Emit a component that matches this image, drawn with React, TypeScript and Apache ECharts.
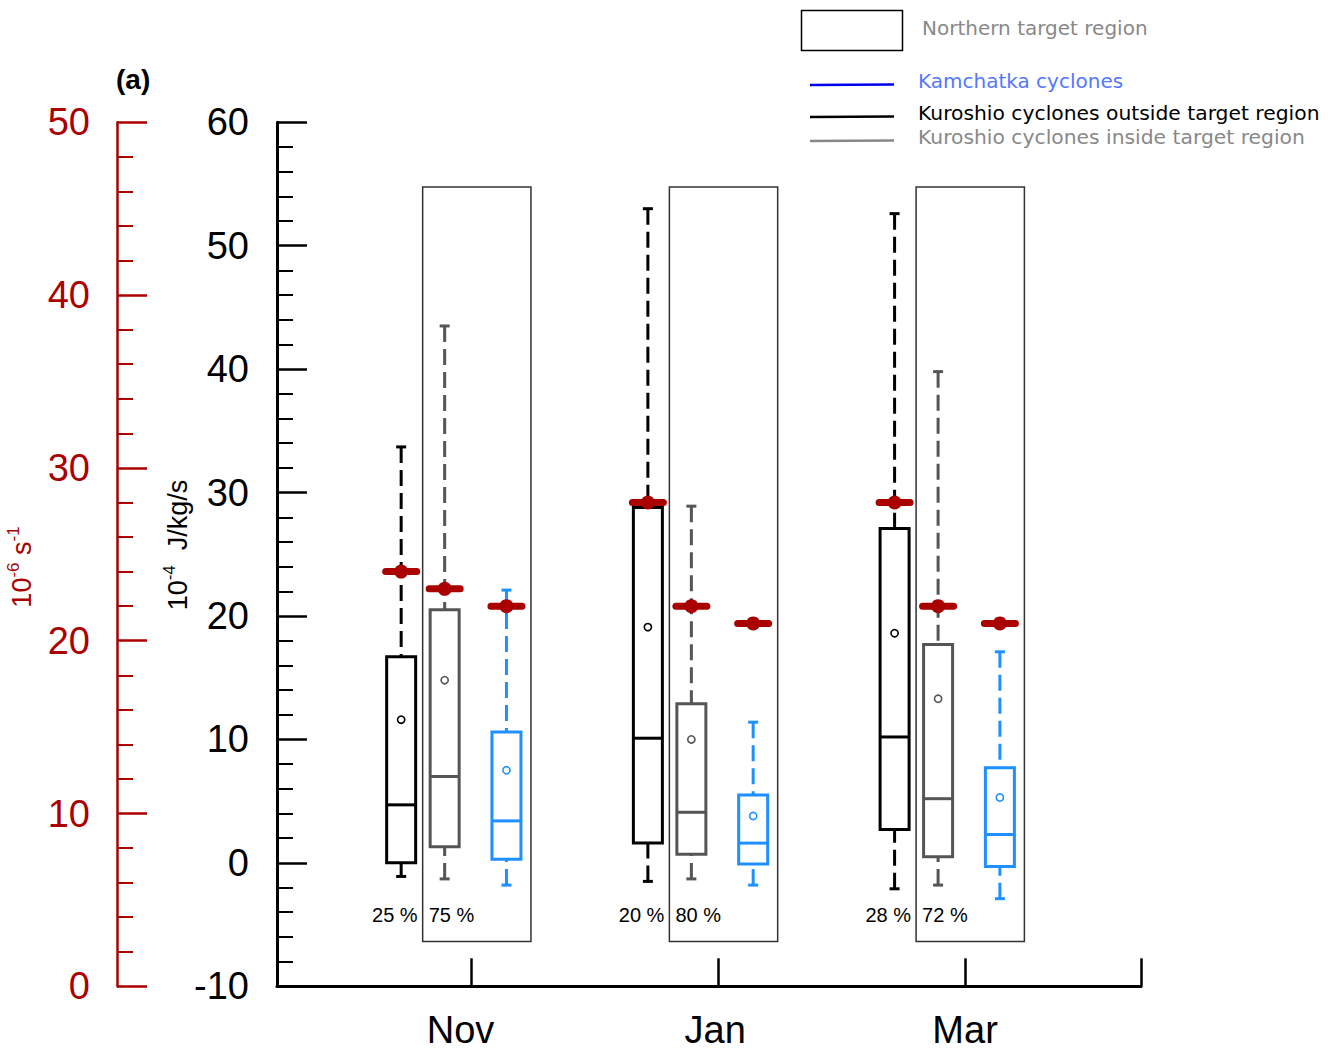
import React, { useEffect, useRef } from 'react';
import * as echarts from 'echarts';

// ---------------- data ----------------
const months = ['Nov', 'Jan', 'Mar'];
const outsidePct = [25, 20, 28];
const insidePct = [75, 80, 72];

// Kuroshio cyclones outside target region (10^-4 J/kg/s)
const outsideMin = [-1.1, -1.5, -2.1];
const outsideQ1 = [0.0, 1.6, 2.7];
const outsideMedian = [4.7, 10.1, 10.2];
const outsideQ3 = [16.7, 28.8, 27.1];
const outsideMax = [33.7, 53.0, 52.6];
const outsideMean = [11.6, 19.1, 18.6];

// Kuroshio cyclones inside target region
const insideMin = [-1.3, -1.3, -1.8];
const insideQ1 = [1.3, 0.7, 0.5];
const insideMedian = [7.0, 4.1, 5.2];
const insideQ3 = [20.5, 12.9, 17.7];
const insideMax = [43.5, 28.9, 39.8];
const insideMean = [14.8, 10.0, 13.3];

// Kamchatka cyclones
const kamMin = [-1.8, -1.8, -2.9];
const kamQ1 = [0.3, -0.1, -0.3];
const kamMedian = [3.4, 1.6, 2.3];
const kamQ3 = [10.6, 5.5, 7.7];
const kamMax = [22.1, 11.4, 17.1];
const kamMean = [7.5, 3.8, 5.3];

// red markers (10^-6 s^-1, red axis)
const outsideRed = [24, 28, 28];
const insideRed = [23, 22, 22];
const kamRed = [22, 21, 21];

// axis ranges
const leftTicksRed = [0, 10, 20, 30, 40, 50];
const leftTicksBlack = [-10, 0, 10, 20, 30, 40, 50, 60];

// ---------------- styling constants ----------------
const RED = '#AA0000';
const FONT = 'Liberation Sans, Arial, Helvetica, sans-serif';
const LEG_FONT = 'DejaVu Sans, Verdana, sans-serif';
const X_MIN = 0.211;
const X_MAX = 3.713;
const TARGET_TOP = 54.76;
const TARGET_BOTTOM = -6.37;
const PCT_Y = -4.2;

function boxData(mn: number[], q1: number[], md: number[], q3: number[], mx: number[], mean: number[]) {
  return months.map((_, i) => [i + 1, mn[i], q1[i], md[i], q3[i], mx[i], mean[i]]);
}

function boxSeries(data: number[][], color: string, lw: number, offsetPx: number) {
  return {
    type: 'custom',
    xAxisIndex: 0,
    yAxisIndex: 0,
    clip: false,
    silent: true,
    z: 3,
    encode: { x: 0, y: [1, 2, 3, 4, 5] },
    data,
    renderItem: (params: any, api: any) => {
      const xv = api.value(0);
      const x0 = api.coord([xv, 0])[0] + offsetPx;
      const y = (v: number) => api.coord([xv, v])[1];
      const yMin = y(api.value(1));
      const yQ1 = y(api.value(2));
      const yMed = y(api.value(3));
      const yQ3 = y(api.value(4));
      const yMax = y(api.value(5));
      const yMean = y(api.value(6));
      const hw = 14.5;
      const capW = 5;
      const dashStyle = { stroke: color, lineWidth: lw, lineDash: [16, 7] };
      const solid = { stroke: color, lineWidth: lw };
      return {
        type: 'group',
        children: [
          { type: 'line', shape: { x1: x0, y1: yMax, x2: x0, y2: yQ3 }, style: dashStyle },
          { type: 'line', shape: { x1: x0, y1: yMin, x2: x0, y2: yQ1 }, style: dashStyle },
          { type: 'line', shape: { x1: x0 - capW, y1: yMax, x2: x0 + capW, y2: yMax }, style: solid },
          { type: 'line', shape: { x1: x0 - capW, y1: yMin, x2: x0 + capW, y2: yMin }, style: solid },
          {
            type: 'rect',
            shape: { x: x0 - hw, y: yQ3, width: 2 * hw, height: yQ1 - yQ3 },
            style: { fill: '#fff', stroke: color, lineWidth: lw },
          },
          { type: 'line', shape: { x1: x0 - hw, y1: yMed, x2: x0 + hw, y2: yMed }, style: solid },
          {
            type: 'circle',
            shape: { cx: x0, cy: yMean, r: 3.6 },
            style: { fill: '#fff', stroke: color, lineWidth: 1.6 },
          },
        ],
      };
    },
  };
}

function redSeries(values: number[], offsetPx: number) {
  return {
    type: 'custom',
    xAxisIndex: 0,
    yAxisIndex: 1,
    clip: false,
    silent: true,
    z: 5,
    encode: { x: 0, y: 1 },
    data: months.map((_, i) => [i + 1, values[i]]),
    renderItem: (params: any, api: any) => {
      const p = api.coord([api.value(0), api.value(1)]);
      const x0 = p[0] + offsetPx;
      const y0 = p[1];
      return {
        type: 'group',
        children: [
          {
            type: 'line',
            shape: { x1: x0 - 15.5, y1: y0, x2: x0 + 15.5, y2: y0 },
            style: { stroke: RED, lineWidth: 7, lineCap: 'round' },
          },
          { type: 'circle', shape: { cx: x0, cy: y0, r: 7 }, style: { fill: RED } },
        ],
      };
    },
  };
}

const OFF_OUT = -70.5;
const OFF_IN = -27;
const OFF_KAM = 34.8;

export default function App() {
  const ref = useRef<HTMLDivElement>(null);

  useEffect(() => {
    if (!ref.current) return;
    const chart = echarts.init(ref.current, null, { renderer: 'svg' });

    const option: any = {
      animation: false,
      backgroundColor: '#ffffff',
      grid: {
        left: 277,
        top: 122.3,
        width: 864,
        height: 864,
        containLabel: false,
        outerBoundsMode: 'none',
      },
      xAxis: {
        type: 'value',
        min: X_MIN,
        max: X_MAX,
        axisLine: { show: true, onZero: false, lineStyle: { color: '#000', width: 3 } },
        axisTick: {
          show: true,
          inside: true,
          length: 28,
          lineStyle: { color: '#000', width: 2.5 },
          customValues: [1, 2, 3, X_MAX],
        },
        axisLabel: {
          show: true,
          customValues: [0.955, 1.987, 3],
          formatter: (v: number) => months[Math.round(v) - 1] || '',
          fontSize: 38,
          fontFamily: FONT,
          color: '#000',
          margin: 25,
        },
        splitLine: { show: false },
      },
      yAxis: [
        {
          type: 'value',
          min: leftTicksBlack[0],
          max: leftTicksBlack[leftTicksBlack.length - 1],
          interval: 10,
          position: 'left',
          axisLine: { show: true, onZero: false, lineStyle: { color: '#000', width: 3 } },
          axisTick: { show: true, inside: true, length: 30, lineStyle: { color: '#000', width: 2.5 } },
          minorTick: { show: true, splitNumber: 5, length: 16, lineStyle: { color: '#000', width: 2 } },
          axisLabel: { fontSize: 38, fontFamily: FONT, color: '#000', margin: 28 },
          splitLine: { show: false },
          minorSplitLine: { show: false },
        },
        {
          type: 'value',
          min: leftTicksRed[0],
          max: leftTicksRed[leftTicksRed.length - 1],
          interval: 10,
          position: 'left',
          offset: 160,
          axisLine: { show: true, onZero: false, lineStyle: { color: RED, width: 2.5 } },
          axisTick: { show: true, inside: true, length: 30, lineStyle: { color: RED, width: 2.5 } },
          minorTick: { show: true, splitNumber: 5, length: 16, lineStyle: { color: RED, width: 2 } },
          axisLabel: { fontSize: 38, fontFamily: FONT, color: RED, margin: 27 },
          splitLine: { show: false },
          minorSplitLine: { show: false },
        },
      ],
      series: [
        // target region rectangles
        {
          type: 'custom',
          xAxisIndex: 0,
          yAxisIndex: 0,
          clip: false,
          silent: true,
          z: 1,
          encode: { x: 0 },
          data: months.map((_, i) => [i + 1]),
          renderItem: (params: any, api: any) => {
            const xv = api.value(0);
            const xc = api.coord([xv, 0])[0];
            const yt = api.coord([xv, TARGET_TOP])[1];
            const yb = api.coord([xv, TARGET_BOTTOM])[1];
            return {
              type: 'rect',
              shape: { x: xc - 49, y: yt, width: 108.3, height: yb - yt },
              style: { fill: 'none', stroke: '#333', lineWidth: 1.5 },
            };
          },
        },
        boxSeries(boxData(outsideMin, outsideQ1, outsideMedian, outsideQ3, outsideMax, outsideMean), '#000000', 3, OFF_OUT),
        boxSeries(boxData(insideMin, insideQ1, insideMedian, insideQ3, insideMax, insideMean), '#555555', 3, OFF_IN),
        boxSeries(boxData(kamMin, kamQ1, kamMedian, kamQ3, kamMax, kamMean), '#1E90FF', 3, OFF_KAM),
        redSeries(outsideRed, OFF_OUT),
        redSeries(insideRed, OFF_IN),
        redSeries(kamRed, OFF_KAM),
        // percentages
        {
          type: 'custom',
          xAxisIndex: 0,
          yAxisIndex: 0,
          clip: false,
          silent: true,
          z: 4,
          encode: { x: 0 },
          data: months.map((_, i) => [i + 1, outsidePct[i], insidePct[i]]),
          renderItem: (params: any, api: any) => {
            const xv = api.value(0);
            const p = api.coord([xv, PCT_Y]);
            const st = { fill: '#000', fontSize: 20, fontFamily: FONT, verticalAlign: 'middle' };
            return {
              type: 'group',
              children: [
                { type: 'text', x: p[0] - 54, y: p[1], style: { ...st, text: api.value(1) + ' %', align: 'right' } },
                { type: 'text', x: p[0] - 43, y: p[1], style: { ...st, text: api.value(2) + ' %', align: 'left' } },
              ],
            };
          },
        },
      ],
      graphic: [
        { type: 'text', x: 116, y: 79, style: { text: '(a)', fill: '#000', font: `bold 28px ${FONT}`, align: 'left', verticalAlign: 'middle' } },
        {
          type: 'text',
          x: 20,
          y: 567,
          rotation: Math.PI / 2,
          style: {
            text: '{n|10}{s|-6}{n| s}{s|-1}',
            align: 'center',
            verticalAlign: 'middle',
            rich: {
              n: { fontSize: 27, fontFamily: FONT, fill: RED, color: RED, lineHeight: 31, verticalAlign: 'bottom' },
              s: { fontSize: 17, fontFamily: FONT, fill: RED, color: RED, lineHeight: 17, verticalAlign: 'top' },
            },
          },
        },
        {
          type: 'text',
          x: 176,
          y: 545,
          rotation: Math.PI / 2,
          style: {
            text: '{n|10}{s|-4}{n|  J/kg/s}',
            align: 'center',
            verticalAlign: 'middle',
            rich: {
              n: { fontSize: 27, fontFamily: FONT, fill: '#000', color: '#000', lineHeight: 31, verticalAlign: 'bottom' },
              s: { fontSize: 17, fontFamily: FONT, fill: '#000', color: '#000', lineHeight: 17, verticalAlign: 'top' },
            },
          },
        },
        // legend
        { type: 'rect', shape: { x: 801.5, y: 10.5, width: 101, height: 40 }, style: { fill: '#fff', stroke: '#000', lineWidth: 1.5 } },
        { type: 'text', x: 922, y: 28, style: { text: 'Northern target region', fill: '#888888', font: `20px ${LEG_FONT}`, verticalAlign: 'middle' } },
        { type: 'line', shape: { x1: 810, y1: 85, x2: 894, y2: 84.5 }, style: { stroke: '#0000EE', lineWidth: 2.5 } },
        { type: 'text', x: 918, y: 81, style: { text: 'Kamchatka cyclones', fill: '#5577FF', font: `20px ${LEG_FONT}`, verticalAlign: 'middle' } },
        { type: 'line', shape: { x1: 810, y1: 117, x2: 894, y2: 116.5 }, style: { stroke: '#000000', lineWidth: 2.5 } },
        { type: 'text', x: 918, y: 113, style: { text: 'Kuroshio cyclones outside target region', fill: '#000', font: `20.3px ${LEG_FONT}`, verticalAlign: 'middle' } },
        { type: 'line', shape: { x1: 810, y1: 141, x2: 894, y2: 140.5 }, style: { stroke: '#888888', lineWidth: 2.5 } },
        { type: 'text', x: 918, y: 137, style: { text: 'Kuroshio cyclones inside target region', fill: '#888888', font: `20.3px ${LEG_FONT}`, verticalAlign: 'middle' } },
      ],
    };

    chart.setOption(option);
    return () => {
      chart.dispose();
    };
  }, []);

  return (
    <div
      ref={ref}
      style={{ position: 'fixed', left: 0, top: 0, width: 1328, height: 1056, background: '#fff' }}
    />
  );
}
